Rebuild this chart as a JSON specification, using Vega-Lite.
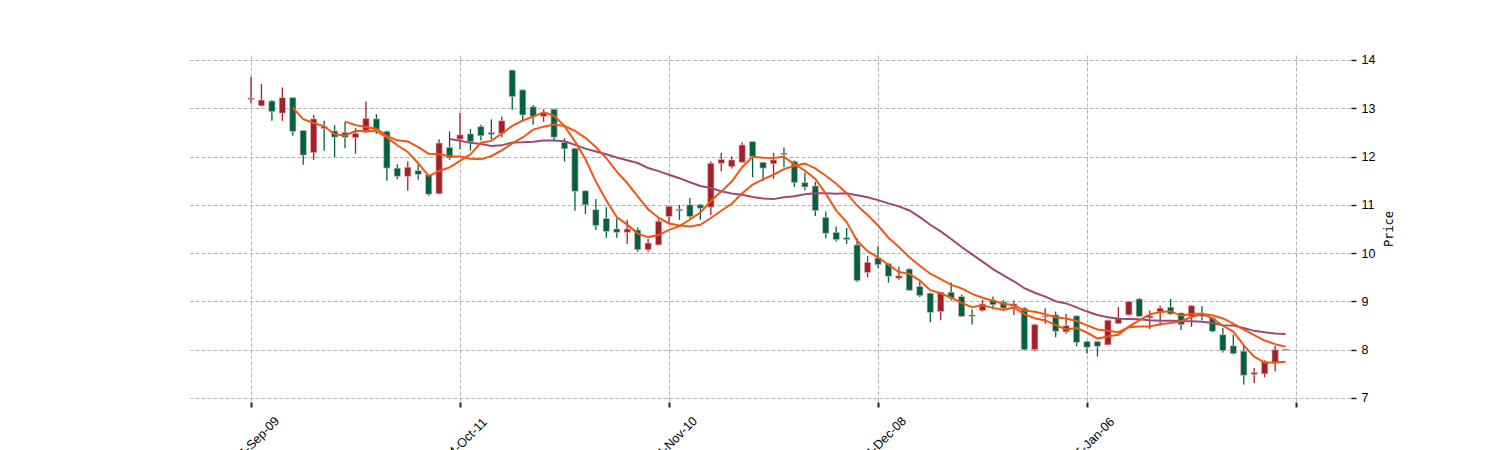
{
  "$schema": "https://vega.github.io/schema/vega-lite/v6.json",
  "width": 1161,
  "height": 347,
  "autosize": {"type": "none"},
  "padding": {"left": 190, "top": 55, "right": 149, "bottom": 48},
  "background": "white",
  "config": {"view": {"stroke": null}},
  "data": {"values": [
    {"i":0,"o":13.18,"h":13.65,"l":13.1,"c":13.21},
    {"i":1,"o":13.05,"h":13.5,"l":13.04,"c":13.17},
    {"i":2,"o":13.15,"h":13.17,"l":12.74,"c":12.93},
    {"i":3,"o":12.9,"h":13.43,"l":12.74,"c":13.22},
    {"i":4,"o":13.22,"h":13.23,"l":12.43,"c":12.52},
    {"i":5,"o":12.54,"h":12.55,"l":11.83,"c":12.03},
    {"i":6,"o":12.08,"h":12.86,"l":11.93,"c":12.78},
    {"i":7,"o":12.62,"h":12.74,"l":12.12,"c":12.58},
    {"i":8,"o":12.53,"h":12.65,"l":11.99,"c":12.4},
    {"i":9,"o":12.5,"h":12.72,"l":12.17,"c":12.4},
    {"i":10,"o":12.39,"h":12.59,"l":12.06,"c":12.48},
    {"i":11,"o":12.5,"h":13.14,"l":12.48,"c":12.79},
    {"i":12,"o":12.78,"h":12.88,"l":12.47,"c":12.55},
    {"i":13,"o":12.52,"h":12.54,"l":11.5,"c":11.76},
    {"i":14,"o":11.76,"h":11.84,"l":11.53,"c":11.59},
    {"i":15,"o":11.59,"h":11.9,"l":11.29,"c":11.78},
    {"i":16,"o":11.71,"h":11.83,"l":11.52,"c":11.63},
    {"i":17,"o":11.62,"h":11.63,"l":11.19,"c":11.22},
    {"i":18,"o":11.23,"h":12.36,"l":11.22,"c":12.28},
    {"i":19,"o":12.19,"h":12.52,"l":11.93,"c":11.97},
    {"i":20,"o":12.36,"h":12.9,"l":12.15,"c":12.45},
    {"i":21,"o":12.47,"h":12.57,"l":12.12,"c":12.31},
    {"i":22,"o":12.62,"h":12.66,"l":12.33,"c":12.43},
    {"i":23,"o":12.5,"h":12.77,"l":12.36,"c":12.46},
    {"i":24,"o":12.48,"h":12.83,"l":12.4,"c":12.74},
    {"i":25,"o":13.79,"h":13.8,"l":12.97,"c":13.24},
    {"i":26,"o":13.38,"h":13.39,"l":12.72,"c":12.86},
    {"i":27,"o":13.03,"h":13.07,"l":12.66,"c":12.83},
    {"i":28,"o":12.83,"h":12.98,"l":12.72,"c":12.9},
    {"i":29,"o":12.98,"h":12.99,"l":12.31,"c":12.4},
    {"i":30,"o":12.29,"h":12.38,"l":11.9,"c":12.16},
    {"i":31,"o":12.17,"h":12.18,"l":10.88,"c":11.28},
    {"i":32,"o":11.29,"h":11.3,"l":10.81,"c":11.0},
    {"i":33,"o":10.9,"h":11.12,"l":10.48,"c":10.57},
    {"i":34,"o":10.72,"h":10.95,"l":10.32,"c":10.45},
    {"i":35,"o":10.5,"h":10.72,"l":10.32,"c":10.43},
    {"i":36,"o":10.43,"h":10.69,"l":10.19,"c":10.5},
    {"i":37,"o":10.48,"h":10.53,"l":10.03,"c":10.07},
    {"i":38,"o":10.07,"h":10.29,"l":10.03,"c":10.21},
    {"i":39,"o":10.17,"h":10.7,"l":10.16,"c":10.66},
    {"i":40,"o":10.76,"h":10.98,"l":10.62,"c":10.97},
    {"i":41,"o":10.91,"h":11.0,"l":10.69,"c":10.88},
    {"i":42,"o":11.0,"h":11.14,"l":10.72,"c":10.76},
    {"i":43,"o":11.0,"h":11.02,"l":10.69,"c":10.93},
    {"i":44,"o":10.95,"h":11.9,"l":10.79,"c":11.86},
    {"i":45,"o":11.86,"h":12.08,"l":11.69,"c":11.94},
    {"i":46,"o":11.79,"h":12.0,"l":11.75,"c":11.93},
    {"i":47,"o":11.88,"h":12.29,"l":11.87,"c":12.24},
    {"i":48,"o":12.31,"h":12.31,"l":11.57,"c":12.0},
    {"i":49,"o":11.88,"h":11.89,"l":11.5,"c":11.76},
    {"i":50,"o":11.85,"h":12.08,"l":11.54,"c":11.93},
    {"i":51,"o":12.07,"h":12.19,"l":11.78,"c":12.04},
    {"i":52,"o":11.9,"h":11.92,"l":11.37,"c":11.46},
    {"i":53,"o":11.46,"h":11.67,"l":11.3,"c":11.37},
    {"i":54,"o":11.39,"h":11.48,"l":10.77,"c":10.88},
    {"i":55,"o":10.74,"h":10.86,"l":10.31,"c":10.41},
    {"i":56,"o":10.43,"h":10.55,"l":10.24,"c":10.28},
    {"i":57,"o":10.32,"h":10.52,"l":10.19,"c":10.28},
    {"i":58,"o":10.17,"h":10.31,"l":9.4,"c":9.43},
    {"i":59,"o":9.6,"h":9.94,"l":9.5,"c":9.81},
    {"i":60,"o":9.9,"h":10.14,"l":9.69,"c":9.76},
    {"i":61,"o":9.78,"h":9.8,"l":9.39,"c":9.52},
    {"i":62,"o":9.48,"h":9.72,"l":9.45,"c":9.53},
    {"i":63,"o":9.67,"h":9.69,"l":9.22,"c":9.23},
    {"i":64,"o":9.31,"h":9.41,"l":9.09,"c":9.12},
    {"i":65,"o":9.17,"h":9.18,"l":8.57,"c":8.77},
    {"i":66,"o":8.79,"h":9.2,"l":8.61,"c":9.19},
    {"i":67,"o":9.19,"h":9.39,"l":9.02,"c":9.07},
    {"i":68,"o":9.1,"h":9.14,"l":8.68,"c":8.69},
    {"i":69,"o":8.72,"h":8.83,"l":8.52,"c":8.69},
    {"i":70,"o":8.81,"h":9.03,"l":8.79,"c":8.95},
    {"i":71,"o":9.03,"h":9.1,"l":8.83,"c":8.93},
    {"i":72,"o":8.99,"h":9.03,"l":8.83,"c":8.86},
    {"i":73,"o":8.9,"h":9.02,"l":8.72,"c":8.95},
    {"i":74,"o":8.86,"h":8.88,"l":7.99,"c":8.0},
    {"i":75,"o":8.0,"h":8.54,"l":7.97,"c":8.52},
    {"i":76,"o":8.68,"h":8.86,"l":8.54,"c":8.7},
    {"i":77,"o":8.72,"h":8.79,"l":8.26,"c":8.38},
    {"i":78,"o":8.37,"h":8.74,"l":8.33,"c":8.5},
    {"i":79,"o":8.7,"h":8.71,"l":8.07,"c":8.15},
    {"i":80,"o":8.17,"h":8.18,"l":7.92,"c":8.05},
    {"i":81,"o":8.17,"h":8.18,"l":7.86,"c":8.07},
    {"i":82,"o":8.1,"h":8.62,"l":8.09,"c":8.61},
    {"i":83,"o":8.54,"h":8.88,"l":8.53,"c":8.66},
    {"i":84,"o":8.72,"h":9.01,"l":8.71,"c":9.0},
    {"i":85,"o":9.05,"h":9.07,"l":8.68,"c":8.69},
    {"i":86,"o":8.66,"h":8.81,"l":8.43,"c":8.7},
    {"i":87,"o":8.79,"h":8.91,"l":8.5,"c":8.86},
    {"i":88,"o":8.88,"h":9.05,"l":8.72,"c":8.74},
    {"i":89,"o":8.76,"h":8.77,"l":8.41,"c":8.52},
    {"i":90,"o":8.69,"h":8.92,"l":8.47,"c":8.91},
    {"i":91,"o":8.76,"h":8.9,"l":8.61,"c":8.69},
    {"i":92,"o":8.66,"h":8.67,"l":8.36,"c":8.38},
    {"i":93,"o":8.31,"h":8.45,"l":7.94,"c":7.98},
    {"i":94,"o":8.08,"h":8.31,"l":7.9,"c":7.92},
    {"i":95,"o":7.97,"h":8.08,"l":7.28,"c":7.47},
    {"i":96,"o":7.49,"h":7.62,"l":7.31,"c":7.53},
    {"i":97,"o":7.5,"h":7.78,"l":7.43,"c":7.76},
    {"i":98,"o":7.72,"h":8.08,"l":7.55,"c":8.0},
    {"i":99,"o":8.01,"h":8.01,"l":7.99,"c":7.99}
  ]},
  "encoding": {
    "x": {
      "field": "i", "type": "quantitative",
      "scale": {"domain": [-5.837, 105.26], "nice": false, "zero": false, "padding": 0},
      "axis": {
        "orient": "bottom", "title": null, "domain": false,
        "values": [0, 20, 40, 60, 80, 100],
        "labelExpr": "datum.value == 0 ? '2014-Sep-09' : datum.value == 20 ? '2014-Oct-11' : datum.value == 40 ? '2014-Nov-10' : datum.value == 60 ? '2014-Dec-08' : datum.value == 80 ? '2015-Jan-06' : ''",
        "grid": true, "gridColor": "#a0a0a0", "gridDash": [4, 2], "gridWidth": 0.8,
        "ticks": true, "tickColor": "#222222", "tickSize": 5, "tickWidth": 2,
        "labelAngle": -45, "labelAlign": "center", "labelBaseline": "middle",
        "labelPadding": 37, "labelFont": "Liberation Sans", "labelFontSize": 12.5,
        "labelColor": "#000000", "labelOverlap": false, "labelBound": false, "labelFlush": false
      }
    },
    "y": {
      "type": "quantitative",
      "scale": {"domain": [6.917, 14.103], "nice": false, "zero": false, "padding": 0},
      "axis": {
        "orient": "right", "title": "Price", "domain": false,
        "values": [7, 8, 9, 10, 11, 12, 13, 14],
        "grid": true, "gridColor": "#a0a0a0", "gridDash": [4, 2], "gridWidth": 0.8,
        "tickColor": "#222222", "tickSize": 5, "tickWidth": 1.5,
        "labelPadding": 5, "labelFont": "Liberation Sans", "labelFontSize": 12.5, "labelColor": "#000000",
        "titleFont": "DejaVu Sans Mono", "titleFontSize": 12, "titleFontWeight": "normal",
        "titleColor": "#000000", "titleAngle": 270, "titlePadding": 21
      }
    }
  },
  "layer": [
    {
      "mark": {"type": "rule", "strokeWidth": 1.3},
      "encoding": {
        "y": {"field": "l", "type": "quantitative"},
        "y2": {"field": "h"},
        "color": {"condition": {"test": "datum.c >= datum.o", "value": "#a02128"}, "value": "#006340"}
      }
    },
    {
      "mark": {"type": "bar", "size": 6.3, "stroke": "#e9b8c4", "strokeWidth": 0.8, "strokeOpacity": 0.8},
      "encoding": {
        "y": {"field": "o", "type": "quantitative"},
        "y2": {"field": "c"},
        "color": {"condition": {"test": "datum.c >= datum.o", "value": "#a02128"}, "value": "#006340"}
      }
    },
    {
      "transform": [
        {"window": [{"op": "mean", "field": "c", "as": "ma"}, {"op": "count", "field": "c", "as": "n"}], "frame": [-19, 0], "sort": [{"field": "i"}]},
        {"filter": "datum.n >= 20"}
      ],
      "mark": {"type": "line", "color": "#9f4878", "strokeWidth": 2},
      "encoding": {"y": {"field": "ma", "type": "quantitative"}}
    },
    {
      "transform": [
        {"window": [{"op": "mean", "field": "c", "as": "ma"}, {"op": "count", "field": "c", "as": "n"}], "frame": [-9, 0], "sort": [{"field": "i"}]},
        {"filter": "datum.n >= 10"}
      ],
      "mark": {"type": "line", "color": "#ef5714", "strokeWidth": 2},
      "encoding": {"y": {"field": "ma", "type": "quantitative"}}
    },
    {
      "transform": [
        {"window": [{"op": "mean", "field": "c", "as": "ma"}, {"op": "count", "field": "c", "as": "n"}], "frame": [-4, 0], "sort": [{"field": "i"}]},
        {"filter": "datum.n >= 5"}
      ],
      "mark": {"type": "line", "color": "#ef5714", "strokeWidth": 2},
      "encoding": {"y": {"field": "ma", "type": "quantitative"}}
    }
  ]
}
